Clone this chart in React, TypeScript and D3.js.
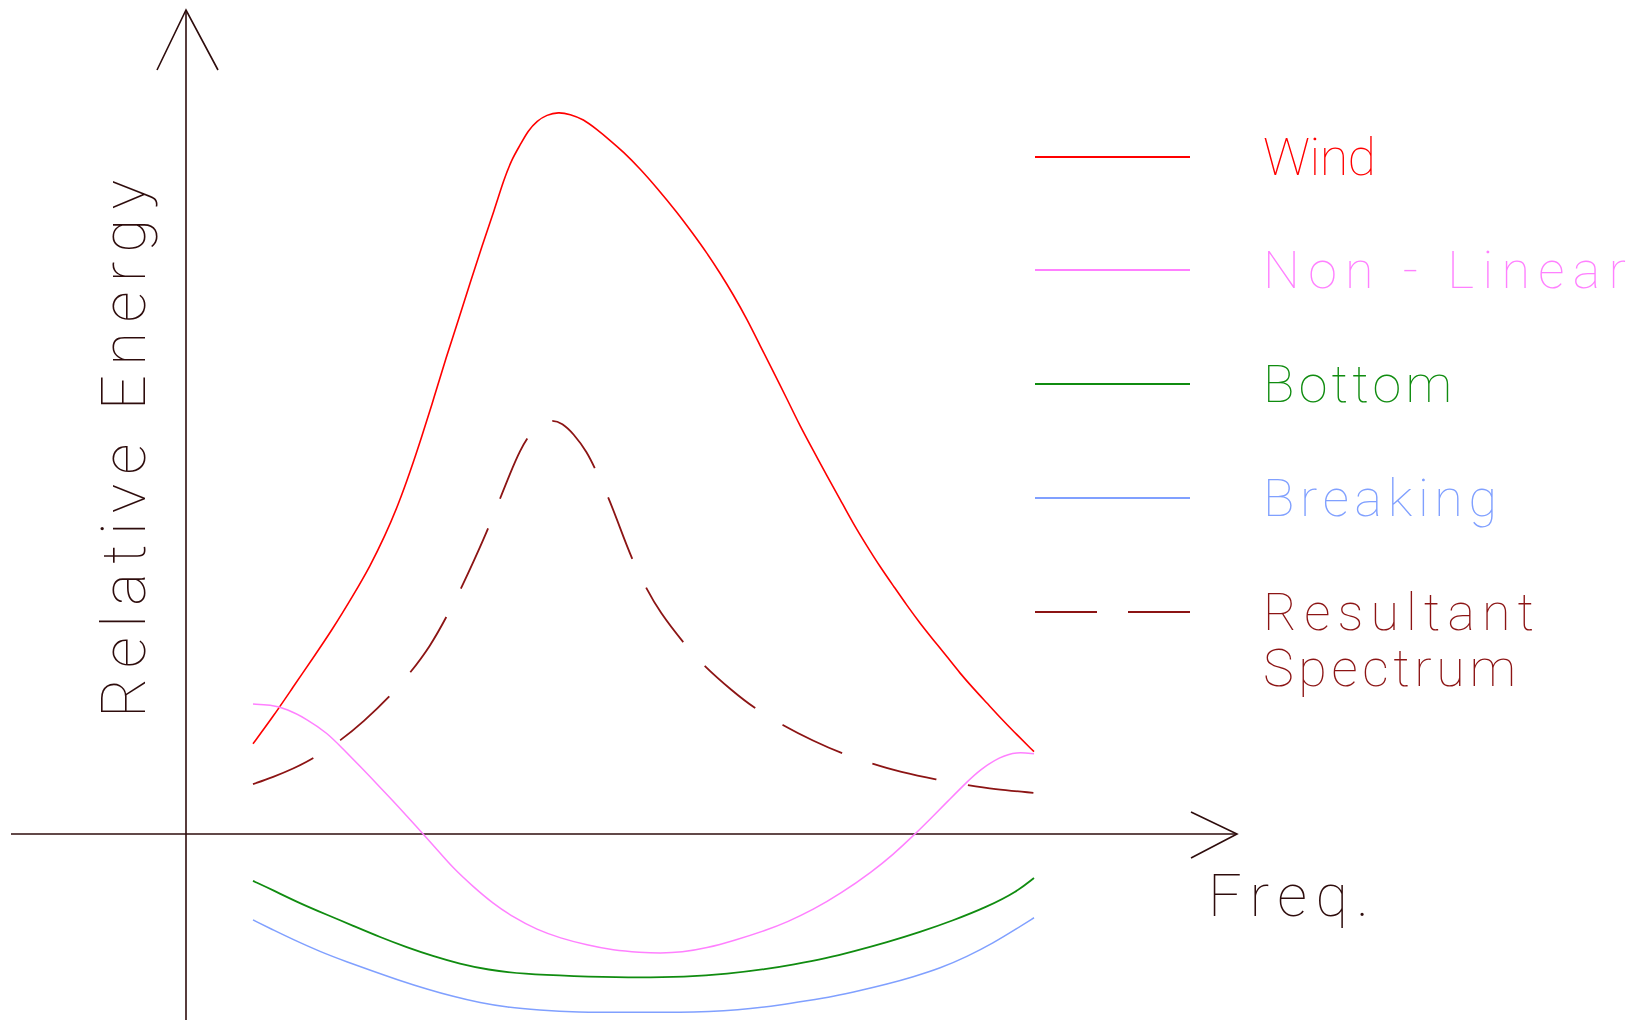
import React, { useEffect } from "react";
import * as d3 from "d3";

// Frequency (arbitrary units) and relative energy values
const windFreq = [0, 0.26, 0.51, 0.77, 1.02, 1.28, 1.5, 1.69, 1.86, 2.01, 2.16, 2.32, 2.47, 2.63, 2.78, 2.93, 3.09, 3.21, 3.32, 3.42, 3.52, 3.64, 3.76, 3.91, 4.06, 4.23, 4.4, 4.57, 4.74, 4.96, 5.17, 5.43, 5.63, 5.81, 5.98, 6.15, 6.33, 6.49, 6.66, 6.84, 7.0, 7.17, 7.35, 7.52, 7.68, 7.86, 8.03, 8.21, 8.37, 8.54, 8.71, 8.89, 9.05, 9.22, 9.4, 9.56, 9.73, 10];
const windEnergy = [1.25, 1.63, 2.03, 2.44, 2.84, 3.3, 3.71, 4.13, 4.56, 5.01, 5.5, 6.05, 6.59, 7.12, 7.63, 8.14, 8.64, 9.06, 9.36, 9.54, 9.74, 9.88, 9.96, 10.0, 9.97, 9.9, 9.76, 9.61, 9.45, 9.21, 8.95, 8.61, 8.32, 8.05, 7.77, 7.47, 7.12, 6.77, 6.41, 6.02, 5.66, 5.32, 4.96, 4.63, 4.31, 3.99, 3.7, 3.42, 3.17, 2.92, 2.69, 2.45, 2.23, 2.02, 1.81, 1.62, 1.43, 1.14];

const nonLinearFreq = [0, 0.22, 0.44, 0.69, 0.95, 1.15, 1.37, 1.59, 1.79, 1.97, 2.18, 2.36, 2.56, 2.82, 3.07, 3.33, 3.64, 3.93, 4.28, 4.61, 4.96, 5.21, 5.49, 5.81, 6.15, 6.58, 6.84, 7.17, 7.52, 7.94, 8.19, 8.44, 8.71, 8.92, 9.14, 9.31, 9.56, 9.78, 10];
const nonLinearEnergy = [1.8, 1.79, 1.73, 1.59, 1.4, 1.18, 0.94, 0.69, 0.46, 0.25, 0, -0.22, -0.47, -0.73, -0.96, -1.15, -1.33, -1.44, -1.54, -1.61, -1.64, -1.65, -1.64, -1.58, -1.48, -1.33, -1.22, -1.05, -0.83, -0.51, -0.29, -0.04, 0.25, 0.48, 0.72, 0.89, 1.07, 1.14, 1.11];

const bottomFreq = [0, 0.26, 0.6, 0.95, 1.28, 1.63, 1.97, 2.3, 2.65, 3.0, 3.46, 4.1, 4.79, 5.56, 6.07, 6.58, 6.91, 7.35, 7.68, 8.12, 8.54, 8.96, 9.4, 9.78, 10];
const bottomEnergy = [-0.65, -0.78, -0.96, -1.12, -1.27, -1.43, -1.57, -1.69, -1.8, -1.88, -1.94, -1.97, -1.99, -1.98, -1.94, -1.87, -1.81, -1.72, -1.63, -1.5, -1.36, -1.2, -1.01, -0.8, -0.61];

const breakingFreq = [0, 0.26, 0.51, 0.86, 1.2, 1.54, 1.88, 2.23, 2.56, 2.91, 3.25, 3.67, 4.1, 4.96, 5.72, 6.02, 6.36, 6.75, 7.09, 7.43, 7.77, 8.12, 8.45, 8.8, 9.14, 9.48, 9.78, 10];
const breakingEnergy = [-1.19, -1.33, -1.46, -1.63, -1.77, -1.9, -2.03, -2.15, -2.25, -2.34, -2.4, -2.44, -2.47, -2.47, -2.47, -2.45, -2.42, -2.37, -2.31, -2.25, -2.17, -2.08, -1.98, -1.86, -1.7, -1.51, -1.31, -1.16];

const resultantFreq = [0, 0.26, 0.51, 0.78, 1.13, 1.41, 1.75, 2.02, 2.27, 2.48, 2.66, 2.84, 3.02, 3.15, 3.29, 3.42, 3.55, 3.67, 3.83, 3.96, 4.1, 4.28, 4.4, 4.55, 4.7, 4.85, 5.03, 5.21, 5.51, 5.76, 6.15, 6.41, 6.79, 7.17, 7.55, 7.94, 8.28, 8.76, 9.14, 9.48, 10];
const resultantEnergy = [0.69, 0.79, 0.9, 1.05, 1.3, 1.55, 1.9, 2.24, 2.6, 3.01, 3.39, 3.81, 4.25, 4.61, 4.99, 5.32, 5.55, 5.68, 5.74, 5.69, 5.55, 5.29, 5.01, 4.67, 4.24, 3.81, 3.41, 3.07, 2.65, 2.34, 1.97, 1.75, 1.5, 1.29, 1.11, 0.97, 0.86, 0.75, 0.68, 0.62, 0.57];

const seriesNames = ["Wind", "Non - Linear", "Bottom", "Breaking", "Resultant"];
const axisLabels = ["Relative Energy", "Freq."];

const W = 1643;
const H = 1023;

const COLORS = {
  Wind: "#ff0000",
  "Non - Linear": "#ff80ff",
  Bottom: "#108c10",
  Breaking: "#80a0ff",
  Resultant: "#8c1414",
};
const AXIS = "#2e0c0c";
const FONT = "Roboto, 'DejaVu Sans', sans-serif";

export default function App() {
  useEffect(() => {
    document.body.style.margin = "0";
  }, []);

  const x = d3.scaleLinear().domain([0, 10]).range([253, 1034]);
  const y = d3.scaleLinear().domain([0, 10]).range([834, 112]);

  const line = d3
    .line<[number, number]>()
    .x((d) => x(d[0]))
    .y((d) => y(d[1]))
    .curve(d3.curveBasis);

  const zip = (a: number[], b: number[]) => a.map((v, i) => [v, b[i]] as [number, number]);

  const series = [
    { name: "Wind", d: zip(windFreq, windEnergy), dash: undefined, w: 1.6 },
    { name: "Non - Linear", d: zip(nonLinearFreq, nonLinearEnergy), dash: undefined, w: 1.5 },
    { name: "Bottom", d: zip(bottomFreq, bottomEnergy), dash: undefined, w: 1.8 },
    { name: "Breaking", d: zip(breakingFreq, breakingEnergy), dash: undefined, w: 1.5 },
    { name: "Resultant", d: zip(resultantFreq, resultantEnergy), dash: "66 32", w: 1.8 },
  ];

  const y0 = y(0);
  const axisX = 186;

  const legendRows = [
    { name: "Wind", lineY: 157, base: 175, len: 113 },
    { name: "Non - Linear", lineY: 270, base: 288, len: 363 },
    { name: "Bottom", lineY: 384, base: 402, len: 189 },
    { name: "Breaking", lineY: 498, base: 516, len: 234 },
    { name: "Resultant", lineY: 612, base: 630, len: 271 },
  ];

  return (
    <svg width={W} height={H} style={{ display: "block", background: "#fff" }}>
      {/* axes */}
      <g stroke={AXIS} strokeWidth={1.6} fill="none">
        <line x1={11} y1={y0} x2={1237} y2={y0} />
        <polyline points={`1191,${y0 - 22} 1237,${y0} 1191,${y0 + 24}`} />
        <line x1={axisX} y1={10} x2={axisX} y2={1020} />
        <polyline points={`157,70 ${axisX},10 218,70`} />
      </g>

      {/* curves */}
      {series.map((s) => (
        <path
          key={s.name}
          d={line(s.d) || ""}
          fill="none"
          stroke={COLORS[s.name as keyof typeof COLORS]}
          strokeWidth={s.w}
          strokeDasharray={s.dash}
        />
      ))}

      {/* legend */}
      {legendRows.map((r, i) => {
        const c = COLORS[r.name as keyof typeof COLORS];
        return (
          <g key={r.name}>
            <line
              x1={1035}
              y1={r.lineY}
              x2={1190}
              y2={r.lineY}
              stroke={c}
              strokeWidth={1.8}
              strokeDasharray={r.name === "Resultant" ? "62 31" : undefined}
            />
            <text
              x={1263}
              y={r.base}
              fill={c}
              fontFamily={FONT}
              fontWeight={100}
              fontSize={52}
              textLength={r.len}
              lengthAdjust="spacing"
            >
              {seriesNames[i]}
            </text>
          </g>
        );
      })}
      <text
        x={1263}
        y={686}
        fill={COLORS.Resultant}
        fontFamily={FONT}
        fontWeight={100}
        fontSize={52}
        textLength={253}
        lengthAdjust="spacing"
      >
        Spectrum
      </text>

      {/* axis labels */}
      <text
        transform="translate(145,718) rotate(-90)"
        fill={AXIS}
        fontFamily={FONT}
        fontWeight={100}
        fontSize={62}
        textLength={538}
        lengthAdjust="spacing"
      >
        {axisLabels[0]}
      </text>
      <text
        x={1208}
        y={916}
        fill={AXIS}
        fontFamily={FONT}
        fontWeight={100}
        fontSize={59}
        textLength={161}
        lengthAdjust="spacing"
      >
        {axisLabels[1]}
      </text>
    </svg>
  );
}
